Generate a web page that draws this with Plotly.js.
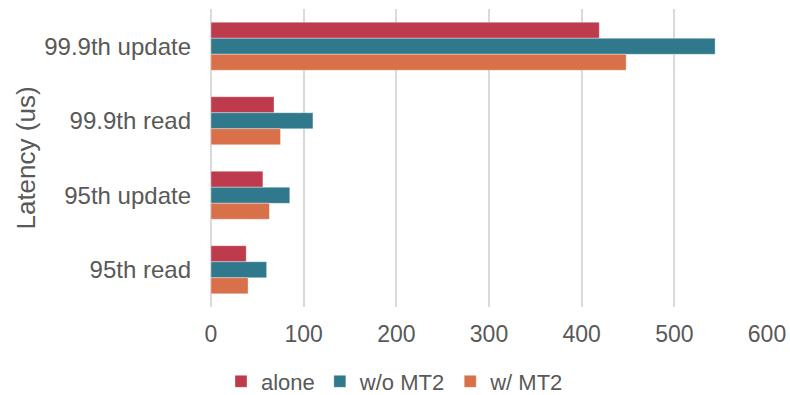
<!DOCTYPE html>
<html>
<head>
<meta charset="utf-8">
<script src="https://cdn.plot.ly/plotly-3.0.1.min.js"></script>
<style>html,body{margin:0;padding:0;background:#fff;}#chart{width:790px;height:395px;}</style>
</head>
<body>
<div id="chart"></div>
<script>
const categories = ['99.9th update', '99.9th read', '95th update', '95th read'];
const aloneValues = [419, 68, 56, 38];
const withoutMT2Values = [544, 110, 85, 60];
const withMT2Values = [448, 75, 63, 40];
const seriesNames = ['alone', 'w/o MT2', 'w/ MT2'];
const xTickValues = [0, 100, 200, 300, 400, 500, 600];

const colors = ['#BE3A4D', '#30788C', '#D8704A'];
const seriesValues = [aloneValues, withoutMT2Values, withMT2Values];

const traces = seriesNames.map((name, i) => ({
  type: 'bar',
  orientation: 'h',
  name: name,
  y: categories,
  x: seriesValues[i],
  marker: {color: colors[i], line: {color: 'rgba(255,255,255,0.35)', width: 1}},
  hoverinfo: 'x+name'
}));

const fam = 'Arial, Liberation Sans, sans-serif';
const font = {family: fam, size: 23, color: '#595959'};

const layout = {
  width: 790,
  height: 395,
  margin: {l: 211, r: 23, t: 9, b: 88},
  paper_bgcolor: '#ffffff',
  plot_bgcolor: '#ffffff',
  font: font,
  barmode: 'group',
  bargap: 0.356,
  bargroupgap: 0,
  showlegend: true,
  legend: {
    orientation: 'h',
    xref: 'container', yref: 'container',
    x: 0.5, xanchor: 'center',
    y: 0.034, yanchor: 'middle',
    font: {family: fam, size: 22, color: '#595959'},
    traceorder: 'normal',
    itemwidth: 30
  },
  xaxis: {
    range: [0, 600],
    tickvals: xTickValues,
    ticktext: xTickValues.map(String),
    showgrid: true,
    gridcolor: '#dadada',
    gridwidth: 2,
    zeroline: true,
    zerolinecolor: '#dadada',
    zerolinewidth: 2,
    showline: false,
    ticks: '',
    ticklabelstandoff: 11,
    tickfont: font,
    fixedrange: true
  },
  yaxis: {
    type: 'category',
    categoryorder: 'array',
    categoryarray: categories,
    autorange: 'reversed',
    showgrid: false,
    zeroline: false,
    showline: false,
    ticks: '',
    ticklabelstandoff: 19,
    tickfont: {family: fam, size: 24, color: '#595959'},
    title: {text: 'Latency (us)', font: {family: fam, size: 26, color: '#595959'}, standoff: 1},
    fixedrange: true
  }
};

Plotly.newPlot('chart', traces, layout, {displayModeBar: false, staticPlot: true});
</script>
</body>
</html>
